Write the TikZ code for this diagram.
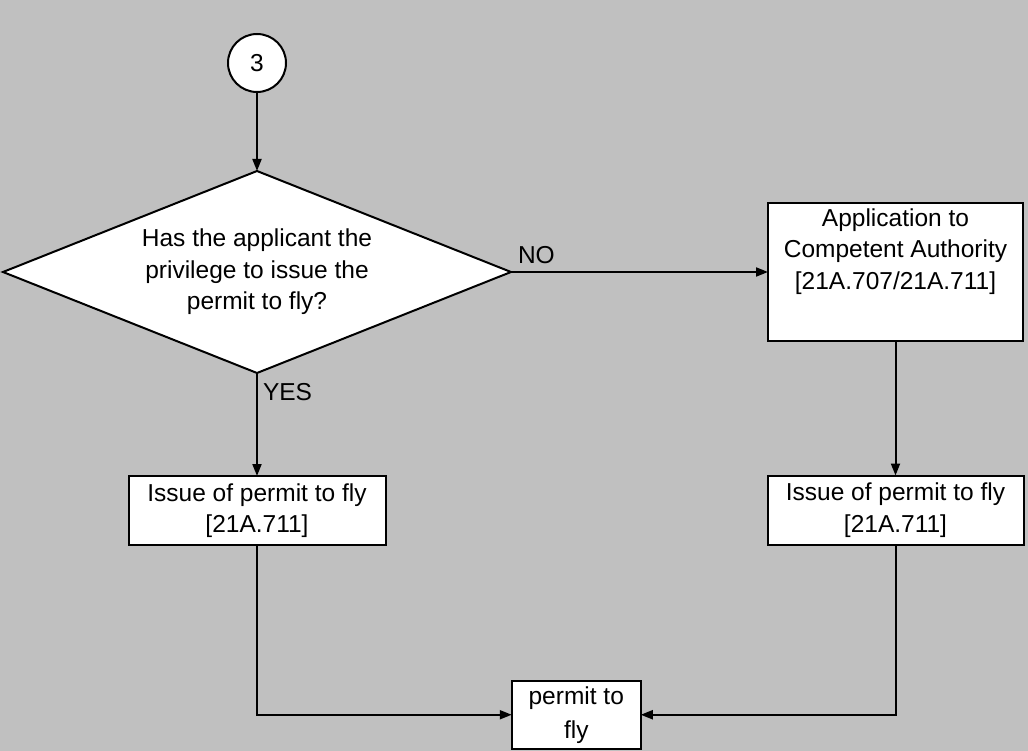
\documentclass[tikz,border=0pt]{standalone}
\usepackage{fontspec}
\setmainfont{Liberation Sans}
\usetikzlibrary{shapes.geometric,arrows.meta,positioning,calc}
\definecolor{bggray}{HTML}{C0C0C0}
\tikzset{every node/.style={font=\fontsize{24.5}{31.5}\selectfont},
  box/.style={draw,fill=white,line width=2pt,outer sep=0pt,inner sep=0pt,align=center},
  decision/.style={diamond,draw,fill=white,line width=2pt,outer sep=0pt,inner sep=0pt,
    align=center,shape aspect=2.5,minimum width=508pt,minimum height=202pt},
  connector/.style={circle,draw,fill=white,line width=2pt,outer sep=0pt,inner sep=0pt,minimum size=58pt},
  arr/.style={line width=2pt,-{Triangle[length=12pt,width=9pt]}},
  lbl/.style={inner sep=0pt}}

\begin{document}
\begin{tikzpicture}[x=1pt,y=-1pt]
                   \fill[bggray] (0,0) rectangle (1028,751);
                   \node[connector] (c_3) at (257,63) {3};
                   \node[decision] (priv) [below=79pt of c_3] {Has the applicant the\\privilege to issue the\\permit to fly?};
                   \node[box] (appl) [right=257pt of priv] {\parbox[c][137pt][t]{255pt}{\vspace*{5pt}\centering Application to\\Competent Authority\\{[21A.707/21A.711]}\par}};
                   \node[box,minimum width=257pt,minimum height=69pt] (issue_l) [below=103pt of priv] {Issue of permit to fly\\{[21A.711]}};
                   \node[box,minimum width=256pt,minimum height=69pt] (issue_r) [below=135pt of appl] {Issue of permit to fly\\{[21A.711]}};
                   \coordinate (mid) at ($(issue_l.south)!0.5!(issue_r.south)$);
                   \node[box,minimum width=129pt,minimum height=68pt,font=\fontsize{24.5}{34}\selectfont] (ptf) [below=136pt of mid] {permit to\\fly};
                    \draw[arr] (c_3) -- (priv);
                    \draw[arr] (priv) -- node[lbl,pos=0,anchor=south west,xshift=6pt,yshift=7pt] {NO} (appl);
                    \draw[arr] (priv) -- node[lbl,pos=0,anchor=north west,xshift=5pt,yshift=-9pt] {YES} (issue_l);
                    \draw[arr] (appl) -- (issue_r);
                    \draw[arr] (issue_l) |- (ptf);
                    \draw[arr] (issue_r) |- (ptf);
                \end{tikzpicture}
\end{document}
